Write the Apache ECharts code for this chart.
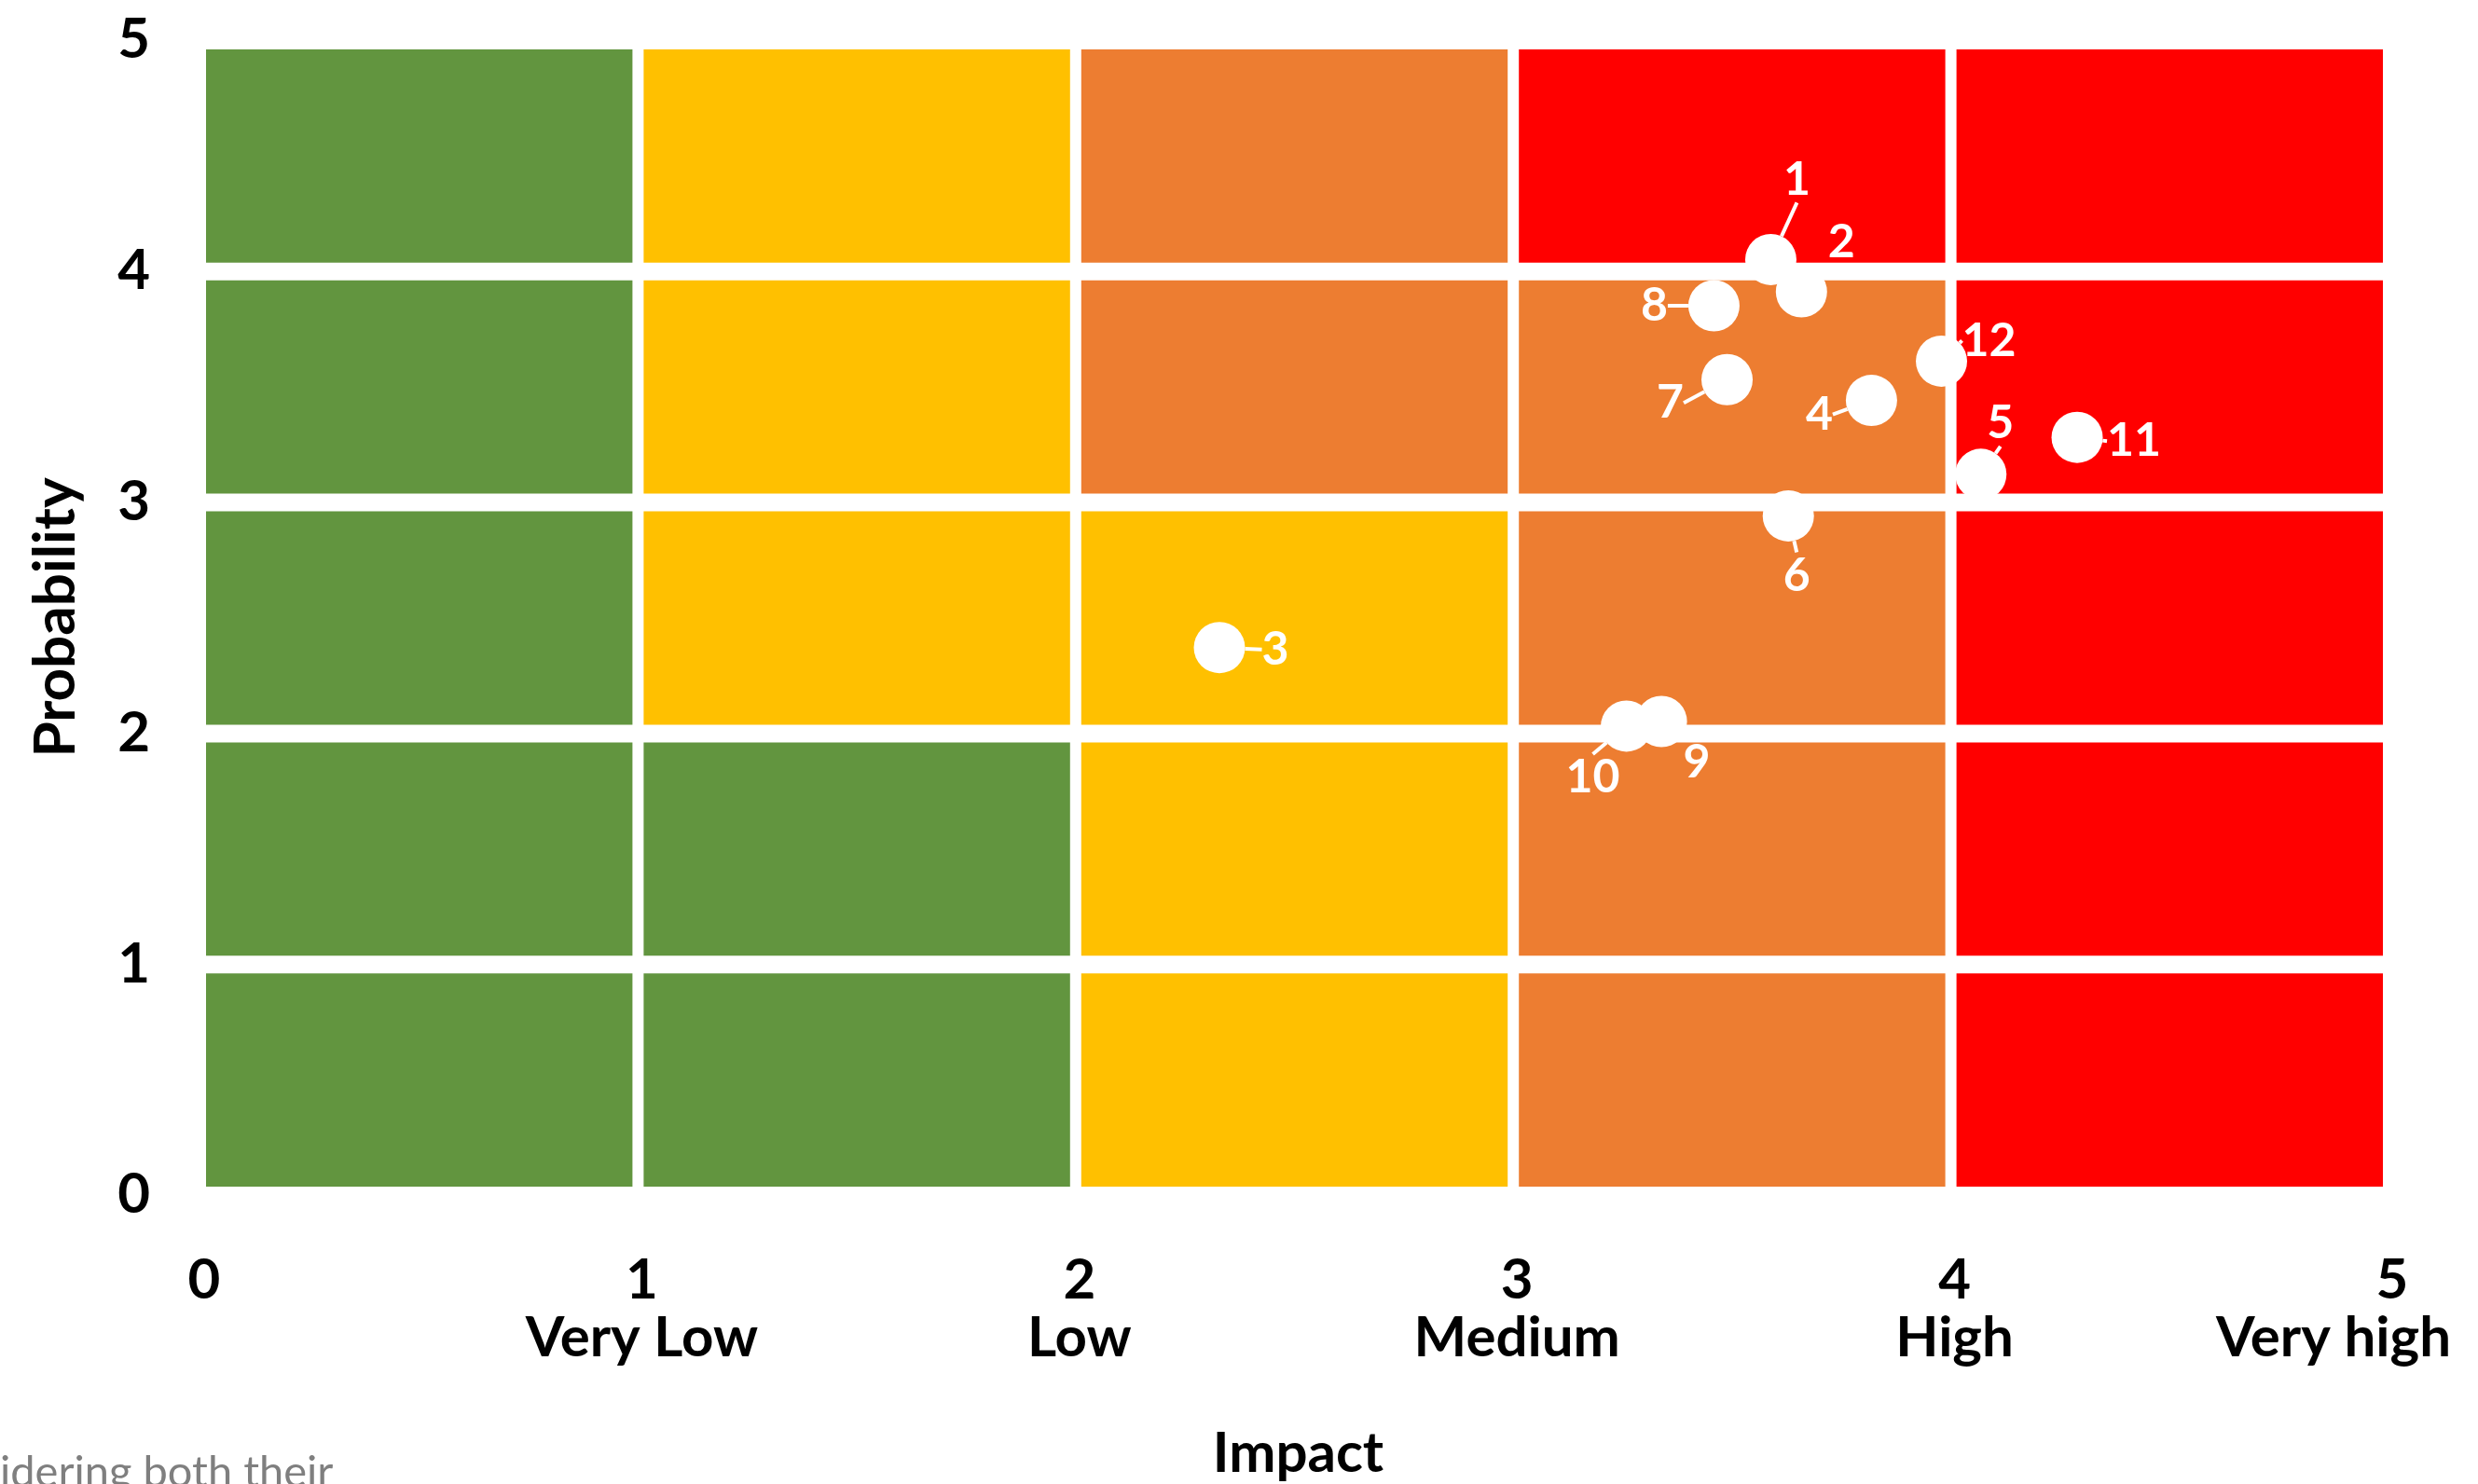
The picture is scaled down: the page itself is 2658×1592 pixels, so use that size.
<!DOCTYPE html>
<html>
<head>
<meta charset="utf-8">
<title>Risk matrix – Impact vs Probability</title>
<script src="https://cdn.jsdelivr.net/npm/echarts@6/dist/echarts.min.js"></script>
<style>
  html, body { margin: 0; padding: 0; background: #ffffff; }
  #chart { width: 2658px; height: 1592px; }
</style>
</head>
<body>
<div id="chart"></div>
<script>
// Impact axis tick labels (value 0..5)
const impactTicks = ['0', '1', '2', '3', '4', '5'];
const impactNames = ['', 'Very Low', 'Low', 'Medium', 'High', 'Very high'];

// Risk level of each matrix cell, rows listed from probability band 4–5 down to 0–1,
// columns from impact band 0–1 to 4–5 (1 = low, 2 = moderate, 3 = significant, 4 = critical)
const zoneLevels = [
  [1, 2, 3, 4, 4],
  [1, 2, 3, 3, 4],
  [1, 2, 2, 3, 4],
  [1, 1, 2, 3, 4],
  [1, 1, 2, 3, 4]
];

// Risk register: id, impact, probability
const riskIds    = ['1', '2', '3', '4', '5', '6', '7', '8', '9', '10', '11', '12'];
const riskImpact = [3.58, 3.65, 2.32, 3.81, 4.06, 3.62, 3.48, 3.45, 3.33, 3.25, 4.28, 3.97];
const riskProb   = [4.05, 3.91, 2.37, 3.44, 3.12, 2.94, 3.53, 3.85, 2.05, 2.03, 3.28, 3.61];

// ---- presentation ----
const levelColors = { 1: '#62953F', 2: '#FFC000', 3: '#ED7D31', 4: '#FF0000' };
// label offsets (px) from each marker centre, same order as riskIds
const labelOffsets = [
  [28, -86], [43, -53], [60, 2], [-56, 15], [21, -55], [9, 64],
  [-61, 25], [-64, 0], [38, 44], [-36, 55], [61, 4], [51, -22]
];
const FONT = 'Lato';

const cellData = [];
zoneLevels.forEach(function (row, r) {
  const band = zoneLevels.length - 1 - r;
  row.forEach(function (level, c) {
    cellData.push([c, band, level]);
  });
});

const riskData = riskIds.map(function (id, i) {
  return { name: id, value: [riskImpact[i], riskProb[i]] };
});

const chart = echarts.init(document.getElementById('chart'), null, { renderer: 'canvas' });

chart.setOption({
  backgroundColor: '#ffffff',
  animation: false,
  textStyle: { fontFamily: FONT },
  grid: { left: 219, right: 92, top: 43, bottom: 310, containLabel: false, outerBoundsMode: 'none' },
  xAxis: {
    type: 'value', min: 0, max: 5, interval: 1,
    name: 'Impact', nameLocation: 'middle', nameGap: 248,
    nameTextStyle: { fontSize: 60, fontWeight: 'bold', color: '#000', fontFamily: FONT },
    axisLine: { show: false }, axisTick: { show: false }, splitLine: { show: false },
    axisLabel: {
      margin: 61,
      formatter: function (v) {
        const i = Math.round(v);
        if (!impactNames[i]) return '{t|' + impactTicks[i] + '}';
        const style = i === impactTicks.length - 1 ? 'e' : 'n';
        return '{t|' + impactTicks[i] + '}\n{' + style + '|' + impactNames[i] + '}';
      },
      rich: {
        t: { fontSize: 60, fontWeight: 'bold', color: '#000', lineHeight: 62, fontFamily: FONT },
        n: { fontSize: 60, fontWeight: 'bold', color: '#000', lineHeight: 62, fontFamily: FONT },
        e: { fontSize: 60, fontWeight: 'bold', color: '#000', lineHeight: 62, fontFamily: FONT, padding: [0, 126, 0, 0] }
      }
    }
  },
  yAxis: {
    type: 'value', min: 0, max: 5, interval: 1,
    name: 'Probability', nameLocation: 'middle', nameGap: 128, nameRotate: 90,
    nameTextStyle: { fontSize: 62, fontWeight: 'bold', color: '#000', fontFamily: FONT },
    axisLine: { show: false }, axisTick: { show: false }, splitLine: { show: false },
    axisLabel: {
      margin: 58, fontSize: 60, fontWeight: 'bold', color: '#000', fontFamily: FONT,
      formatter: function (v) { return String(v); }
    }
  },
  graphic: [{
    type: 'text', left: 0, top: 1556, silent: true,
    style: { text: 'idering both their', fontSize: 47, fontFamily: FONT, fill: '#7F7F7F' }
  }],
  series: [
    {
      type: 'custom',
      data: cellData,
      encode: { x: 0, y: 1 },
      clip: false,
      z: 1,
      silent: true,
      renderItem: function (params, api) {
        const c = api.value(0), b = api.value(1);
        const tl = api.coord([c, b + 1]);
        const br = api.coord([c + 1, b]);
        return {
          type: 'rect',
          shape: { x: tl[0] + 2, y: tl[1] + 10, width: br[0] - tl[0] - 12, height: br[1] - tl[1] - 19 },
          style: { fill: levelColors[api.value(2)] }
        };
      }
    },
    {
      type: 'scatter',
      data: riskData,
      z: 5,
      symbol: 'circle',
      symbolSize: 55,
      itemStyle: { color: '#FFFFFF', opacity: 1 },
      label: {
        show: true, position: 'inside', formatter: '{b}',
        fontSize: 50, fontWeight: 'bold', color: '#FFFFFF', fontFamily: FONT,
        padding: 4
      },
      labelLine: { show: true, lineStyle: { color: '#FFFFFF', width: 4, opacity: 1 } },
      labelLayout: function (params) {
        const o = labelOffsets[params.dataIndex];
        return { dx: o[0], dy: o[1], hideOverlap: false };
      },
      emphasis: { disabled: true }
    }
  ]
});
</script>
</body>
</html>
